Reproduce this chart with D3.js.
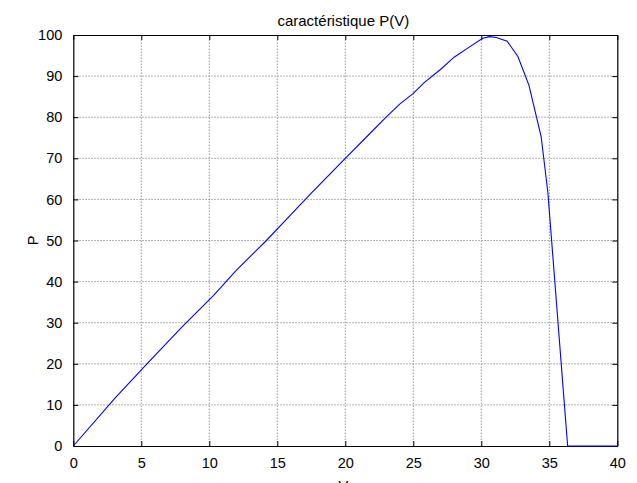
<!DOCTYPE html>
<html><head><meta charset="utf-8">
<script src="https://cdn.jsdelivr.net/npm/d3@7"></script>
<style>body{margin:0;background:#fff}svg{display:block}text{font-family:"Liberation Sans",Arial,sans-serif}</style>
</head><body>
<script>
const voltage = [0, 3.05, 5.5, 8.0, 10.3, 12.0, 14.2, 16.0, 17.5, 20.0, 21.5, 23.0, 24.0, 25.0, 25.8, 27.0, 28.0, 29.0, 30.1, 30.6, 31.1, 31.9, 32.7, 33.5, 34.4, 34.9, 35.5, 36.1, 36.35, 40];
const power   = [0, 11.6, 20.3, 29.0, 36.6, 42.8, 50.0, 56.3, 61.5, 70.0, 75.0, 80.0, 83.2, 85.8, 88.4, 91.6, 94.6, 96.8, 99.2, 99.6, 99.4, 98.5, 94.7, 87.8, 75.3, 61.5, 36.0, 10.5, 0, 0];
const xTicks = [0, 5, 10, 15, 20, 25, 30, 35, 40];
const yTicks = [0, 10, 20, 30, 40, 50, 60, 70, 80, 90, 100];
const title = "caractéristique P(V)";
const xLabel = "V";
const yLabel = "P";

const W = 637, H = 483;
const m = {left: 73.3, top: 35, right: 637 - 617.3, bottom: 483 - 446};
const svg = d3.select("body").append("svg").attr("width", W).attr("height", H);
const x = d3.scaleLinear().domain([0, 40]).range([m.left, W - m.right]);
const y = d3.scaleLinear().domain([0, 100]).range([H - m.bottom, m.top]);
const fs = 14.5;

// grid
const g = svg.append("g");
g.selectAll(".vg").data(xTicks.slice(1, -1)).join("line")
  .attr("x1", d => x(d)).attr("x2", d => x(d)).attr("y1", y(0)).attr("y2", y(100))
  .attr("stroke", "#9a9a9a").attr("stroke-dasharray", "1.5,1.5").attr("stroke-width", 1);
g.selectAll(".hg").data(yTicks.slice(1, -1)).join("line")
  .attr("y1", d => y(d)).attr("y2", d => y(d)).attr("x1", x(0)).attr("x2", x(40))
  .attr("stroke", "#9a9a9a").attr("stroke-dasharray", "1.5,1.5").attr("stroke-width", 1);

// axes
const tk = 5;
const xb = svg.append("g").attr("transform", `translate(0,${y(0)})`)
  .call(d3.axisBottom(x).tickValues(xTicks).tickSizeInner(-tk).tickSizeOuter(0).tickPadding(tk + 7));
const xt = svg.append("g").attr("transform", `translate(0,${y(100)})`)
  .call(d3.axisTop(x).tickValues(xTicks).tickSizeInner(-tk).tickSizeOuter(0).tickFormat(""));
const yl = svg.append("g").attr("transform", `translate(${x(0)},0)`)
  .call(d3.axisLeft(y).tickValues(yTicks).tickSizeInner(-tk).tickSizeOuter(0).tickPadding(tk + 6));
const yr = svg.append("g").attr("transform", `translate(${x(40)},0)`)
  .call(d3.axisRight(y).tickValues(yTicks).tickSizeInner(-tk).tickSizeOuter(0).tickFormat(""));
[xb, xt, yl, yr].forEach(a => {
  a.select(".domain").attr("stroke", "#000").attr("stroke-width", 1.2);
  a.selectAll(".tick line").attr("stroke", "#000");
  a.selectAll("text").attr("font-size", fs).attr("fill", "#000")
    .style("font-family", '"Liberation Sans", Arial, sans-serif');
});

// line
const pts = voltage.map((v, i) => [v, power[i]]);
svg.append("path").datum(pts)
  .attr("d", d3.line().x(d => x(d[0])).y(d => y(d[1])))
  .attr("fill", "none").attr("stroke", "#0000ff").attr("stroke-width", 1.1);

// labels
svg.append("text").attr("x", (x(0) + x(40)) / 2 - 2).attr("y", 25.5).attr("text-anchor", "middle")
  .attr("font-size", 15).text(title);
svg.append("text").attr("x", (x(0) + x(40)) / 2 - 2).attr("y", 491).attr("text-anchor", "middle")
  .attr("font-size", fs).text(xLabel);
svg.append("text").attr("transform", `translate(38,${(y(0) + y(100)) / 2}) rotate(-90)`)
  .attr("text-anchor", "middle").attr("font-size", fs).text(yLabel);
</script>
</body></html>
